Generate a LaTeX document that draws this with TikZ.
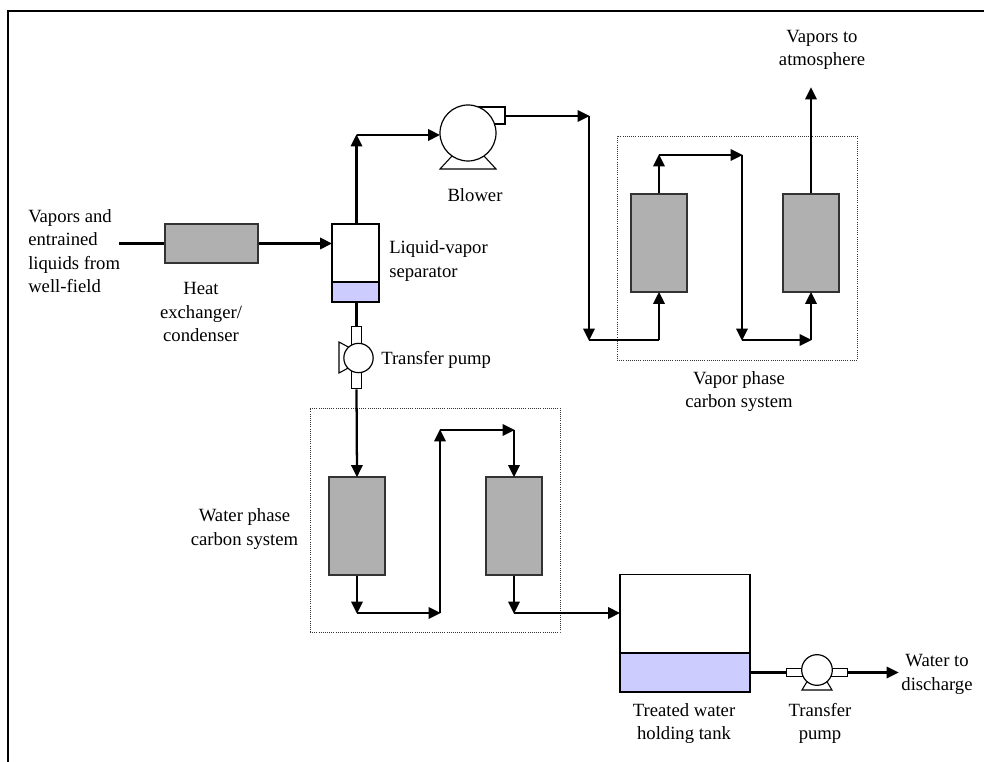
\documentclass[tikz,border=0pt]{standalone}
\usepackage{fontspec}
\setmainfont{Liberation Serif}
\usetikzlibrary{arrows.meta}
\tikzset{
  pipe/.style={line width=1.7pt},
  flow/.style={pipe,-{Triangle[length=9pt,width=8.5pt]},shorten >=-0.5pt},
  thinline/.style={draw=black,line width=0.8pt},
  carbonbed/.style={draw=black!80,line width=0.8pt,fill=black!31,minimum width=42pt,minimum height=73.5pt,inner sep=0pt},
  label/.style={align=center,font=\fontsize{14}{17.5}\selectfont,inner sep=0pt},
  liquid/.style={draw=black,line width=1pt,fill=blue!20,inner sep=0pt},
  vessel/.style={draw=black,line width=0.9pt,fill=white,inner sep=0pt},
  stub/.style={draw=black,line width=0.7pt,fill=white,inner sep=0pt},
  impeller/.style={circle,draw=black,line width=0.9pt,fill=white,inner sep=0pt},
  system/.style={draw=black!80,densely dotted,line width=0.6pt,inner sep=0pt}
}
\begin{document}
\begin{tikzpicture}[x=0.75pt,y=-0.75pt]
    \useasboundingbox (0,0) rectangle (984,762);
    \draw[line width=1.5pt] (8,762) -- (8,11) -- (984,11);
    % dotted system frames
    \node[system,minimum width=180pt,minimum height=168pt] (vaporsys) at (737,248) {};
    \node[system,minimum width=187.5pt,minimum height=168pt] (watersys) at (435,520) {};
    % heat exchanger and separator
    \coordinate (feed) at (119,243.5);
    \node[carbonbed,minimum width=69.75pt,minimum height=29.25pt] (hx) at (211.5,243.5) {};
    \node[vessel,minimum width=35.25pt,minimum height=58.5pt] (sep) at (355.5,263) {};
    \node[liquid,minimum width=35.25pt,minimum height=15pt] (sepliquid) at (355.5,292) {};
    \draw[pipe] (feed) -- (hx.west);
    \draw[flow] (hx.east) -- (hx.east -| sep.west);
    % blower
    \draw[thinline,fill=white] (440,169) -- (452,156) -- (484,156) -- (496,169) -- cycle;
    \draw[thinline] (468,107) -- (505,107) -- (505,124) -- (494,124);
    \node[impeller,minimum size=42pt] (blower) at (468,133) {};
    \coordinate (outlet) at (505,116);
    \coordinate (suction) at (356.5,135);
    \coordinate (ductA) at (589,116);
    \coordinate (ductB) at (589,340);
    \draw[flow] (sep.north -| suction) -- (suction);
    \draw[flow] (suction) -- (suction -| blower.west);
    \draw[flow] (outlet) -- (ductA);
    \draw[flow] (ductA) -- (ductB);
    % vapor carbon beds
    \node[carbonbed] (vbedA) at (659,243) {};
    \node[carbonbed] (vbedB) at (811,243) {};
    \coordinate (vtopA) at (659,155);
    \coordinate (vtopB) at (742,155);
    \coordinate (vlowA) at (742,340);
    \coordinate (vlowB) at (811,340);
    \coordinate (vent) at (811,88);
    \draw[pipe] (ductB) -- (ductB -| vbedA);
    \draw[flow] (ductB -| vbedA) -- (vbedA.south);
    \draw[flow] (vbedA.north) -- (vtopA);
    \draw[flow] (vtopA) -- (vtopB);
    \draw[flow] (vtopB) -- (vlowA);
    \draw[flow] (vlowA) -- (vlowB);
    \draw[flow] (vlowB) -- (vbedB.south);
    \draw[flow] (vbedB.north) -- (vent);
    % transfer pump below separator
    \node[stub,minimum width=7pt,minimum height=47pt] (pumpAstub) at (356.5,357.5) {};
    \draw[thinline,fill=white] (339,342) -- (352,349) -- (352,366) -- (339,373) -- cycle;
    \node[impeller,minimum size=22pt] (pumpA) at (358.5,358) {};
    \draw[pipe] (sep.south -| pumpAstub) -- (pumpAstub.north);
    % water carbon beds
    \node[carbonbed] (wbedA) at (357,526) {};
    \node[carbonbed] (wbedB) at (514,526) {};
    \coordinate (wlowA) at (440,613);
    \coordinate (wtopA) at (440,430);
    \coordinate (wtopB) at (514,430);
    \coordinate (wlowB) at (514,613);
    \draw[flow] (pumpAstub.south) -- (wbedA.north);
    \draw[flow] (wbedA.south) -- (wbedA.south |- wlowA);
    \draw[flow] (wbedA.south |- wlowA) -- (wlowA);
    \draw[flow] (wlowA) -- (wtopA);
    \draw[flow] (wtopA) -- (wtopB);
    \draw[flow] (wtopB) -- (wbedB.north);
    \draw[flow] (wbedB.south) -- (wlowB);
    % holding tank
    \node[vessel,minimum width=97.5pt,minimum height=88pt] (tank) at (685,633.5) {};
    \node[liquid,minimum width=97.5pt,minimum height=29.25pt] (tankliquid) at (685,672.5) {};
    \draw[flow] (wlowB) -- (wlowB -| tank.west);
    % transfer pump after tank
    \coordinate (dischargept) at (898,672.5);
    \node[stub,minimum width=46pt,minimum height=5.5pt] (pumpBstub) at (817,672.5) {};
    \draw[thinline,fill=white] (802,690) -- (808,680) -- (826,680) -- (832,690) -- cycle;
    \node[impeller,minimum size=23pt] (pumpB) at (817,670) {};
    \draw[pipe] (tankliquid.east |- pumpBstub) -- (pumpBstub.west);
    \draw[flow] (pumpBstub.east) -- (dischargept);
    % labels
    \node[label,align=left,anchor=west] (feedtext) at (28,251) {Vapors and\\entrained\\liquids from\\well-field};
    \node[label] (hxtext) at (201,312) {Heat\\exchanger/\\condenser};
    \node[label,align=left,anchor=west] (septext) at (389,261) {Liquid-vapor\\separator};
    \node[label] (blowertext) at (475,195) {Blower};
    \node[label,anchor=west] (pumpAtext) at (381,360) {Transfer pump};
    \node[label] (venttext) at (822,50) {Vapors to\\atmosphere};
    \node[label] (vaportext) at (739,391.5) {Vapor phase\\carbon system};
    \node[label] (watertext) at (244.5,529) {Water phase\\carbon system};
    \node[label] (tanktext) at (684,723.5) {Treated water\\holding tank};
    \node[label] (pumpBtext) at (820,723.5) {Transfer\\pump};
    \node[label] (dischargetext) at (937,674.5) {Water to\\discharge};
\end{tikzpicture}
\end{document}
